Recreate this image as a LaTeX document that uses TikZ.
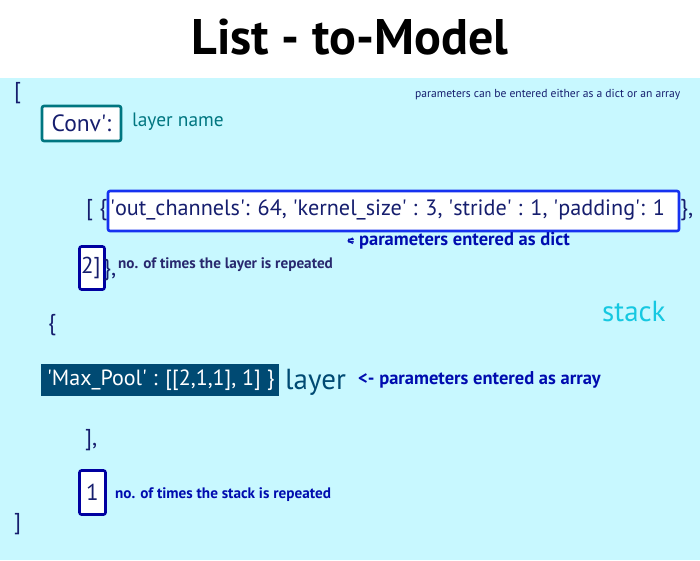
\documentclass[tikz,border=0pt]{standalone}
\usepackage{fontspec}
\setmainfont{PT Sans}
\usepackage{tikz}
\usetikzlibrary{positioning}
\definecolor{bgcyan}{RGB}{200,248,255}
\definecolor{codenavy}{RGB}{22,30,110}
\definecolor{tealline}{RGB}{0,118,128}
\definecolor{dictblue}{RGB}{22,50,240}
\definecolor{cntblue}{RGB}{0,0,160}
\definecolor{noteblue}{RGB}{0,12,175}
\definecolor{notenavy}{RGB}{40,40,110}
\definecolor{stackcyan}{RGB}{22,200,225}
\definecolor{poolfill}{RGB}{0,74,115}
\newcommand{\q}{\textquotesingle}
\tikzset{
  code/.style={text=codenavy,inner sep=0pt,anchor=west,font=\fontsize{23}{23}\selectfont},
  namebox/.style={draw=tealline,fill=white,line width=2.6pt,rounded corners=2pt,minimum width=79pt,minimum height=35pt,inner sep=0pt},
  dictbox/.style={draw=dictblue,fill=white,line width=2.6pt,rounded corners=2pt,minimum width=571pt,minimum height=40pt,inner sep=0pt},
  cntbox/.style={draw=cntblue,fill=white,line width=2.6pt,rounded corners=2pt,minimum width=25pt,minimum height=43pt,inner sep=0pt},
  poolbox/.style={fill=poolfill,minimum width=238pt,minimum height=32pt,inner sep=0pt},
  note/.style={text=noteblue,inner sep=0pt,anchor=west,font=\fontsize{15.2}{15.2}\selectfont\bfseries},
  tag/.style={inner sep=0pt,anchor=west,font=\fontsize{29}{29}\selectfont}
}
\begin{document}
\begin{tikzpicture}[x=1pt,y=-1pt]
  \useasboundingbox (0,0) rectangle (700,560);
  \fill[bgcyan] (0,78) rectangle (700,560);
  \node[font=\fontsize{50}{50}\selectfont\bfseries] (title) at (350,37) {List - to-Model};
  % outer list
  \node[code] (open) at (14,93) {[};
  \node[note,text=codenavy,font=\fontsize{11.6}{11.6}\selectfont] (either) at (415,95) {parameters can be entered either as a dict or an array};
  % layer name
  \node[namebox] (convbox) at (81.5,123.5) {};
  \node[text=codenavy,font=\fontsize{23.5}{23.5}\selectfont] (conv) at (convbox) {Conv\q:};
  \node[code,text=tealline,font=\fontsize{19.4}{19.4}\selectfont] (lname) at (132,122) {layer name};
  % parameters as dict
  \node[code] (dopen) at (86,210) {[ \{};
  \node[dictbox] (dictbox) at (393.5,211) {};
  \node[code,font=\fontsize{22.2}{22.2}\selectfont] (dict) at (110,210) {\q out\_channels\q: 64, \q kernel\_size\q\ : 3, \q stride\q\ : 1, \q padding\q: 1};
  \node[code] (dclose) at (680,210) {\},};
  \node[note,font=\fontsize{18.5}{18.5}\selectfont\bfseries] (asdict) at (347,241) {{\fontsize{13}{13}\selectfont<\kern-0.5em=}\ parameters entered as dict};
  % layer repeat
  \node[cntbox] (twobox) at (92,268) {};
  \node[code] (two) at (81,268) {2]};
  \node[code] (twoclose) at (103,270) {\},};
  \node[note,text=notenavy] (lrep) at (118,265) {no. of times the layer is repeated};
  % stack
  \node[tag,text=stackcyan] (stack) at (602,312) {stack};
  \node[code] (sopen) at (48,325) {\{};
  \node[poolbox] (pool) at (160,380) {};
  \node[code,text=white,font=\fontsize{22}{22}\selectfont] (pooltext) at (47,380) {\q Max\_Pool\q\ : [[2,1,1], 1] \}};
  \node[tag,text=poolfill] (layer) at (285,382) {layer};
  \node[note,font=\fontsize{18.5}{18.5}\selectfont\bfseries] (asarr) at (358,380) {<- parameters entered as array};
  \node[code] (sclose) at (85,440) {],};
  % stack repeat
  \node[cntbox,minimum width=26pt,minimum height=44pt] (onebox) at (92.5,492.5) {};
  \node[text=codenavy,font=\fontsize{23}{23}\selectfont] (one) at (onebox) {1};
  \node[note] (srep) at (115,495) {no. of times the stack is repeated};
  \node[code] (close) at (14,524) {]};
\end{tikzpicture}
\end{document}
